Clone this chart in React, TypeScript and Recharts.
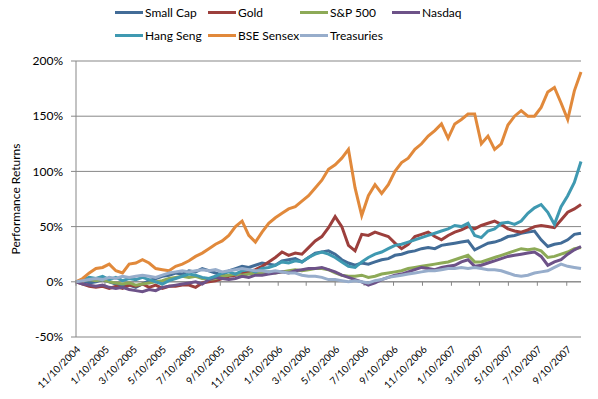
import React from "react";
import {
  LineChart,
  Line,
  XAxis,
  YAxis,
  CartesianGrid,
  ReferenceLine,
} from "recharts";

// two-week samples from 11/10/2004 onwards
const STEP_DAYS = 14;

const tickLabels = [
  "11/10/2004", "1/10/2005", "3/10/2005", "5/10/2005", "7/10/2005", "9/10/2005",
  "11/10/2005", "1/10/2006", "3/10/2006", "5/10/2006", "7/10/2006", "9/10/2006",
  "11/10/2006", "1/10/2007", "3/10/2007", "5/10/2007", "7/10/2007", "9/10/2007",
];

const smallCap = [
  0, 1, -1, 0, 2, 0, -2, -4, -3, -5,
  -2, 1, 3, 5, 6, 8, 7, 10, 9, 12,
  10, 8, 6, 10, 12, 14, 13, 15, 17, 16,
  15, 19, 20, 21, 18, 22, 26, 27, 28, 25,
  20, 17, 15, 17, 16, 18, 20, 21, 24, 25,
  27, 28, 30, 31, 30, 33, 34, 35, 36, 37,
  29, 32, 35, 36, 38, 41, 42, 44, 45, 46,
  38, 32, 34, 35, 38, 43, 44,
];

const gold = [
  0, -2, -4, -5, -4, -6, -4, -6, -3, -4,
  -2, -5, -3, -6, -4, -4, -3, -3, -5, -1,
  0, 1, 3, 5, 6, 8, 9, 11, 14, 18,
  22, 27, 24, 26, 25, 31, 37, 41, 49, 59,
  50, 33, 28, 43, 42, 45, 43, 41, 35, 30,
  34, 41, 43, 45, 41, 38, 42, 45, 47, 50,
  48, 51, 53, 55, 52, 48, 46, 45, 47, 50,
  51, 50, 49, 56, 63, 66, 70,
];

const sp500 = [
  0, 1, 2, 1, 2, 0, -1, -2, -1, -3,
  -2, -1, 0, 1, 3, 4, 5, 4, 5, 3,
  2, 3, 5, 6, 7, 6, 7, 8, 8, 9,
  8, 9, 10, 11, 10, 11, 12, 12, 11, 8,
  6, 5, 5, 6, 4, 5, 7, 8, 9, 10,
  12, 13, 14, 15, 16, 17, 18, 20, 22, 24,
  18, 18, 20, 22, 24, 26, 28, 30, 29, 30,
  28, 22, 23, 25, 27, 30, 31,
];

const nasdaq = [
  0, -2, -3, -4, -3, -5, -6, -5, -7, -8,
  -9, -7, -8, -5, -4, -3, -2, -1, 0, -2,
  2, 4, 3, 2, 3, 5, 4, 6, 6, 7,
  8, 9, 8, 10, 11, 12, 12, 13, 11, 9,
  6, 4, 2, 0, -3, -1, 2, 4, 6, 7,
  9, 11, 13, 12, 11, 13, 14, 15, 18, 20,
  14, 15, 17, 19, 21, 23, 24, 25, 26, 27,
  23, 15, 18, 20, 25, 29, 32,
];

const hangSeng = [
  0, 2, 4, 3, 5, 2, 4, 1, 3, 2,
  4, 2, 0, -2, 1, 3, 5, 7, 6, 4,
  3, 5, 8, 9, 7, 10, 11, 9, 12, 13,
  15, 18, 17, 19, 18, 22, 25, 27, 25, 22,
  18, 14, 13, 18, 22, 25, 27, 30, 33, 34,
  36, 38, 40, 42, 44, 46, 48, 51, 50, 53,
  42, 40, 46, 48, 53, 54, 52, 55, 62, 67,
  70, 63, 52, 68, 78, 90, 109,
];

const bseSensex = [
  0, 3, 8, 12, 13, 16, 10, 8, 16, 17,
  20, 17, 12, 11, 10, 14, 16, 19, 23, 26,
  30, 34, 37, 42, 50, 55, 42, 36, 45, 53,
  58, 62, 66, 68, 73, 78, 85, 92, 102, 106,
  112, 120, 85, 60, 78, 88, 80, 88, 100, 108,
  112, 120, 125, 132, 137, 143, 130, 143, 147, 152,
  152, 125, 132, 120, 125, 142, 150, 155, 150, 150,
  158, 172, 176, 162, 147, 173, 190,
];

const treasuries = [
  0, 1, 2, 3, 2, 4, 3, 5, 4, 5,
  6, 5, 4, 6, 8, 9, 10, 9, 10, 11,
  10, 11, 9, 10, 11, 12, 11, 10, 10, 9,
  10, 9, 8, 8, 6, 5, 5, 4, 2, 2,
  1, 0, 1, 0, -1, 1, 2, 4, 5, 6,
  7, 8, 9, 10, 10, 11, 12, 12, 13, 12,
  13, 12, 11, 11, 10, 8, 6, 5, 6, 8,
  9, 10, 13, 16, 14, 13, 12,
];

const series = [
  { key: "smallCap", name: "Small Cap", color: "#426C97", values: smallCap },
  { key: "gold", name: "Gold", color: "#9C3F3C", values: gold },
  { key: "sp500", name: "S&P 500", color: "#8DAA57", values: sp500 },
  { key: "nasdaq", name: "Nasdaq", color: "#6D5288", values: nasdaq },
  { key: "hangSeng", name: "Hang Seng", color: "#3F99B1", values: hangSeng },
  { key: "bseSensex", name: "BSE Sensex", color: "#E1893B", values: bseSensex },
  { key: "treasuries", name: "Treasuries", color: "#97ADCB", values: treasuries },
];

const START = Date.UTC(2004, 10, 10);
const dayOf = (s: string) => {
  const [m, d, y] = s.split("/").map(Number);
  return Math.round((Date.UTC(y, m - 1, d) - START) / 86400000);
};
const tickDays = tickLabels.map(dayOf);
const labelByDay: Record<number, string> = {};
tickLabels.forEach((l, i) => (labelByDay[tickDays[i]] = l));

const data = smallCap.map((_, i) => {
  const row: Record<string, number> = { day: i * STEP_DAYS };
  series.forEach((s) => (row[s.key] = s.values[i]));
  return row;
});

const FONT = "Lato, 'Open Sans', sans-serif";
const GRID = "#878787";

const legendCols = [115, 208, 300, 392];

function LegendBox() {
  return (
    <div style={{ position: "absolute", left: 0, top: 0, width: 598, height: 50 }}>
      {series.map((s, i) => (
        <div
          key={s.key}
          style={{
            position: "absolute",
            left: legendCols[i % 4],
            top: i < 4 ? 4 : 27,
            height: 16,
            display: "flex",
            alignItems: "center",
            fontFamily: FONT,
            fontSize: 12,
            color: "#000",
            whiteSpace: "nowrap",
          }}
        >
          <span
            style={{
              display: "inline-block",
              width: 28,
              height: 3,
              background: s.color,
              marginRight: 2,
            }}
          />
          {s.name}
        </div>
      ))}
    </div>
  );
}

export default function App() {
  return (
    <div
      style={{
        position: "absolute",
        left: 0,
        top: 0,
        width: 598,
        height: 399,
        background: "#fff",
      }}
    >
      <LineChart
        width={598}
        height={399}
        data={data}
        margin={{ top: 61, right: 17, left: 0, bottom: 0 }}
      >
        <CartesianGrid vertical={false} stroke={GRID} strokeWidth={1} />
        <XAxis
          dataKey="day"
          type="number"
          domain={[0, 1064]}
          ticks={tickDays}
          interval={0}
          tickFormatter={(d: number) => labelByDay[d] ?? ""}
          axisLine={false}
          tickLine={false}
          height={62}
          angle={-45}
          textAnchor="end"
          tick={{ fontSize: 10, fontFamily: FONT, fill: "#000" }}
        />
        <YAxis
          domain={[-50, 200]}
          ticks={[-50, 0, 50, 100, 150, 200]}
          tickFormatter={(v: number) => `${v}%`}
          width={76}
          stroke={GRID}
          tickSize={5}
          tickMargin={8}
          tick={{ fontSize: 12, fontFamily: FONT, fill: "#000" }}
          label={{
            content: (props: any) => {
              const vb = props.viewBox;
              const cx = 15;
              const cy = vb.y + vb.height / 2;
              return (
                <text
                  x={cx}
                  y={cy}
                  transform={`rotate(-90, ${cx}, ${cy})`}
                  textAnchor="middle"
                  dominantBaseline="central"
                  fontSize={12}
                  fontFamily={FONT}
                  fill="#000"
                >
                  Performance Returns
                </text>
              );
            },
          }}
        />
        <ReferenceLine y={0} stroke={GRID} strokeWidth={1} />
        {tickDays.map((d) => (
          <ReferenceLine
            key={d}
            segment={[
              { x: d, y: 0 },
              { x: d, y: -3.6 },
            ]}
            stroke={GRID}
          />
        ))}
        {series.map((s) => (
          <Line
            key={s.key}
            type="linear"
            dataKey={s.key}
            name={s.name}
            stroke={s.color}
            strokeWidth={3}
            dot={false}
            isAnimationActive={false}
          />
        ))}
      </LineChart>
      <LegendBox />
    </div>
  );
}
